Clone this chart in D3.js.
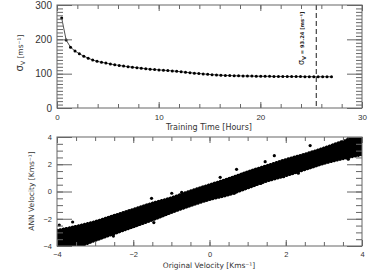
<!DOCTYPE html>
<html>
<head>
<meta charset="utf-8">
<script src="https://cdn.jsdelivr.net/npm/d3@7"></script>
<style>
  html, body { margin: 0; padding: 0; background: #fff; }
  svg { display: block; font-family: "DejaVu Sans", sans-serif; }
  .tick text { fill: #333; }
</style>
</head>
<body>
<svg id="chart" width="382" height="273"></svg>
<script>
// ── Datos: panel superior (error vs tiempo de entrenamiento) ─────
const trainHours = [0.46,0.90,1.33,1.77,2.20,2.64,3.07,3.51,3.94,4.38,4.81,5.25,5.68,6.12,6.55,6.99,
  7.42,7.86,8.29,8.73,9.16,9.60,10.03,10.47,10.90,11.34,11.77,12.21,12.64,13.08,13.51,13.95,14.38,
  14.82,15.25,15.69,16.12,16.56,16.99,17.43,17.86,18.30,18.73,19.17,19.60,20.04,20.47,20.91,21.34,
  21.78,22.21,22.65,23.08,23.52,23.95,24.39,24.82,25.26,25.69,26.13,26.56,27.00];
const sigmaV = [262,198,177,166,158,151,145,140,136,133,131,128,126,124,122,120.5,119,117.5,116,114.5,
  113,112,111,110,109,108,107,105.5,104,103,101.5,100.5,99.3,98.2,97.2,96.3,95.5,94.9,94.4,94,93.7,
  93.4,93.1,92.9,92.7,92.5,92.3,92.2,92,91.9,91.8,91.7,91.6,91.5,91.4,91.3,91.3,91.2,91.1,91.1,91,91];
const stopHour = 25.5;
const topXTicks = [0, 10, 20, 30];
const topYTicks = [0, 100, 200, 300];

// ── Datos: panel inferior (banda de dispersión + puntos sueltos) ─
const bandX     = [-4,-3.5,-3,-2.5,-2,-1.5,-1,-0.5,0,0.5,1,1.5,2,2.5,3,3.5,4];
const bandUpper = [-2.85,-2.55,-2.2,-1.75,-1.3,-0.85,-0.45,0.05,0.5,0.95,1.45,1.9,2.35,2.75,3.2,3.7,4.2];
const bandLower = [-4.3,-4.1,-3.6,-3.1,-2.6,-2.1,-1.55,-1.05,-0.6,-0.25,0.25,0.75,1.15,1.6,2.05,2.4,2.7];
const outliers = [[-3.94,-2.46],[-3.59,-2.24],[-3.02,-2.29],[-2.52,-3.27],[-1.52,-0.5],[-1.46,-2.28],
  [-1.3,-1.83],[-0.99,-0.13],[-0.73,-0.06],[0.28,1.04],[0.65,-0.13],[0.71,1.63],[0.89,0.23],[1.35,0.6],
  [1.46,2.19],[1.7,2.63],[1.94,1.09],[2.33,1.34],[2.37,1.58],[2.64,3.37],[2.8,2.07],[3.03,2.19],[3.64,2.37]];
const botTicks = [-4, -2, 0, 2, 4];

// ── Escalas ──────────────────────────────────────────────────────
const L = 57, R = 362;
const xT = d3.scaleLinear().domain([0, 30]).range([L, R]);
const yT = d3.scaleLinear().domain([0, 300]).range([108, 5]);
const xB = d3.scaleLinear().domain([-4, 4]).range([L, R]);
const yB = d3.scaleLinear().domain([-4, 4]).range([246, 137]);

const svg = d3.select("#chart");
const fmt = d => d < 0 ? "\u2212" + Math.abs(d) : String(d);

function axes(g, x, y, xMajor, xMinor, yMajor, yMinor, fsX, fsY) {
  const [y0, y1] = y.range(), [x0, x1] = x.range();
  const add = (axis, tr) => {
    const a = g.append("g").attr("transform", tr).call(axis);
    a.select(".domain").remove();
    a.selectAll("line").attr("stroke", "#666");
    return a;
  };
  // menores
  add(d3.axisBottom(x).tickValues(xMinor).tickSize(-4).tickFormat(""), `translate(0,${y0})`);
  add(d3.axisTop(x).tickValues(xMinor).tickSize(-4).tickFormat(""), `translate(0,${y1})`);
  add(d3.axisLeft(y).tickValues(yMinor).tickSize(-6).tickFormat(""), `translate(${x0},0)`);
  add(d3.axisRight(y).tickValues(yMinor).tickSize(-6).tickFormat(""), `translate(${x1},0)`);
  // mayores
  add(d3.axisBottom(x).tickValues(xMajor).tickSize(-6).tickPadding(6).tickFormat(fmt), `translate(0,${y0})`)
    .selectAll("text").attr("font-size", fsX);
  add(d3.axisTop(x).tickValues(xMajor).tickSize(-6).tickFormat(""), `translate(0,${y1})`);
  add(d3.axisLeft(y).tickValues(yMajor).tickSize(-15).tickPadding(5).tickFormat(fmt), `translate(${x0},0)`)
    .selectAll("text").attr("font-size", fsY);
  add(d3.axisRight(y).tickValues(yMajor).tickSize(-15).tickFormat(""), `translate(${x1},0)`);
  g.append("rect").attr("x", x0).attr("y", y1).attr("width", x1 - x0).attr("height", y0 - y1)
    .attr("fill", "none").attr("stroke", "#666").attr("stroke-width", 1);
}

// ── Panel superior ───────────────────────────────────────────────
const gT = svg.append("g");
const topData = trainHours.map((t, i) => ({t, v: sigmaV[i]}));

gT.append("path").datum(topData)
  .attr("fill", "none").attr("stroke", "#222").attr("stroke-width", 0.8)
  .attr("d", d3.line().x(d => xT(d.t)).y(d => yT(d.v)));
gT.selectAll("circle.pt").data(topData).join("circle").attr("class", "pt")
  .attr("cx", d => xT(d.t)).attr("cy", d => yT(d.v)).attr("r", 1.5).attr("fill", "#000");

gT.append("line")
  .attr("x1", xT(stopHour)).attr("x2", xT(stopHour)).attr("y1", yT(300)).attr("y2", yT(0))
  .attr("stroke", "#000").attr("stroke-width", 0.9).attr("stroke-dasharray", "5,3");

const ann = gT.append("text")
  .attr("transform", `translate(${xT(stopHour) - 12},${yT(125)}) rotate(-90)`)
  .attr("fill", "#222").attr("font-size", 5.2).attr("font-weight", "bold");
ann.append("tspan").attr("font-size", 8).attr("font-weight", "normal").text("\u03c3");
ann.append("tspan").attr("dy", 1.5).text("V");
ann.append("tspan").attr("dy", -1.5).text(" = 93.24 [ms\u207b\u00b9]");

axes(gT, xT, yT, topXTicks, d3.range(0, 31, 2), topYTicks, d3.range(0, 301, 10), 8, 10);

gT.append("text").attr("x", 209).attr("y", 130).attr("text-anchor", "middle")
  .attr("font-size", 8).attr("fill", "#333").text("Training Time [Hours]");
const ylT = gT.append("text").attr("transform", "translate(23,53) rotate(-90)")
  .attr("text-anchor", "middle").attr("font-size", 7.5).attr("fill", "#333");
ylT.append("tspan").attr("font-size", 10).text("\u03c3");
ylT.append("tspan").attr("dy", 2).attr("font-size", 6).text("V");
ylT.append("tspan").attr("dy", -2).text(" [ms\u207b\u00b9]");

// ── Panel inferior ───────────────────────────────────────────────
const gB = svg.append("g");
gB.append("clipPath").attr("id", "clipB").append("rect")
  .attr("x", L).attr("y", yB(4)).attr("width", R - L).attr("height", yB(-4) - yB(4));
const plotB = gB.append("g").attr("clip-path", "url(#clipB)");

const band = bandX.map((x, i) => ({x, hi: bandUpper[i], lo: bandLower[i]}));
plotB.append("path").datum(band)
  .attr("fill", "#000")
  .attr("d", d3.area().x(d => xB(d.x)).y0(d => yB(d.lo)).y1(d => yB(d.hi)).curve(d3.curveMonotoneX));
// bordes punteados de la nube
[d => yB(d.hi), d => yB(d.lo)].forEach(fy => {
  plotB.append("path").datum(band)
    .attr("fill", "none").attr("stroke", "#000").attr("stroke-width", 2.8)
    .attr("stroke-linecap", "round").attr("stroke-dasharray", "0.5,2.6")
    .attr("d", d3.line().x(d => xB(d.x)).y(fy).curve(d3.curveMonotoneX));
});
plotB.selectAll("circle").data(outliers).join("circle")
  .attr("cx", d => xB(d[0])).attr("cy", d => yB(d[1])).attr("r", 1.6).attr("fill", "#000");

axes(gB, xB, yB, botTicks, d3.range(-4, 4.01, 0.5), botTicks, d3.range(-4, 4.01, 0.5), 7.5, 7.5);

gB.append("text").attr("x", 209).attr("y", 268).attr("text-anchor", "middle")
  .attr("font-size", 7.5).attr("fill", "#333").text("Original Velocity [Kms\u207b\u00b9]");
gB.append("text").attr("transform", "translate(34,191) rotate(-90)")
  .attr("text-anchor", "middle").attr("font-size", 7.5).attr("fill", "#333")
  .text("ANN Velocity [Kms\u207b\u00b9]");
</script>
</body>
</html>
